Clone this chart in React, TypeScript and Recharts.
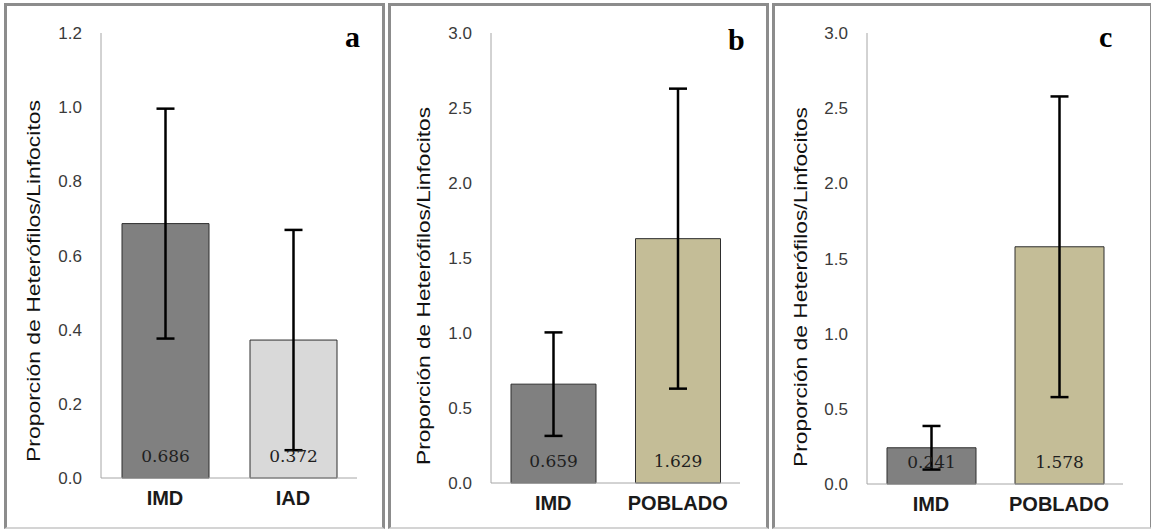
import React from "react";
import { Bar, BarChart, XAxis, YAxis, ErrorBar, Cell, LabelList, Label } from "recharts";

// Panel a
const catsA = ["IMD", "IAD"];
const valsA = [0.686, 0.372];
const errA = [0.31, 0.297];
const ticksA = [0, 0.2, 0.4, 0.6, 0.8, 1.0, 1.2];

// Panel b
const catsB = ["IMD", "POBLADO"];
const valsB = [0.659, 1.629];
const errB = [0.345, 1.0];

// Panel c
const catsC = ["IMD", "POBLADO"];
const valsC = [0.241, 1.578];
const errC = [0.145, 1.0];

const ticksBC = [0, 0.5, 1.0, 1.5, 2.0, 2.5, 3.0];

const yTitle = "Proporción de Heterófilos/Linfocitos";

const barColors: Record<string, string> = {
  IMD: "#808080",
  IAD: "#d9d9d9",
  POBLADO: "#c4bd97",
};

const toRows = (cats: string[], vals: number[], errs: number[]) =>
  cats.map((name, i) => ({ name, value: vals[i], err: errs[i] }));

interface PanelProps {
  letter: string;
  rows: { name: string; value: number; err: number }[];
  ticks: number[];
  max: number;
  left: number;
  margin: { top: number; right: number; bottom: number; left: number };
  barSize: number;
  labelX: number;
  labelCY: number;
  labelLen: number;
  letterX: number;
  letterTop: number;
}

const W = 380;
const H = 529;
const Y_AXIS_W = 40;

const Panel: React.FC<PanelProps> = (p) => {
  const renderValue = (props: any) => {
    const { x, y, width, height, value } = props;
    return (
      <text
        x={x + width / 2}
        y={y + height - 16}
        textAnchor="middle"
        fontFamily="'DejaVu Serif', serif"
        fontSize={17}
        fill="#1f1f1f"
      >
        {Number(value).toFixed(3)}
      </text>
    );
  };

  const renderYTitle = () => (
    <text
      x={p.labelX}
      y={p.labelCY}
      transform={`rotate(-90 ${p.labelX} ${p.labelCY})`}
      textAnchor="middle"
      fontFamily="'Liberation Sans', Arial, sans-serif"
      fontSize={19}
      fill="#111111"
      textLength={p.labelLen}
      lengthAdjust="spacingAndGlyphs"
    >
      {yTitle}
    </text>
  );

  return (
    <>
      <div
        style={{
          position: "absolute",
          left: p.left - 1,
          top: 3,
          width: W + 1,
          height: H - 3,
          boxSizing: "border-box",
          borderTop: "3px solid #8c8c8c",
          borderLeft: "3px solid #8c8c8c",
          borderRight: "3px solid #8c8c8c",
          borderBottom: "2px solid #d4d4d4",
        }}
      />
      <div style={{ position: "absolute", left: p.left, top: 0 }}>
        <BarChart width={W} height={H} data={p.rows} margin={p.margin} barSize={p.barSize}>
          <XAxis
            dataKey="name"
            height={30}
            tickLine={false}
            tickSize={0}
            tickMargin={13}
            axisLine={{ stroke: "#a6a6a6" }}
            tick={{ fontFamily: "'Liberation Sans', Arial, sans-serif", fontSize: 20, fontWeight: 700, fill: "#1a1a1a" }}
          />
          <YAxis
            width={Y_AXIS_W}
            domain={[0, p.max]}
            ticks={p.ticks}
            interval={0}
            tickFormatter={(v: number) => v.toFixed(1)}
            tickLine={false}
            tickSize={6}
            tickMargin={13}
            axisLine={{ stroke: "#a6a6a6" }}
            tick={{ fontFamily: "'Liberation Sans', Arial, sans-serif", fontSize: 17, fill: "#3a3a3a" }}
          >
            <Label content={renderYTitle} />
          </YAxis>
          <Bar dataKey="value" stroke="#2e2e2e" strokeWidth={1} isAnimationActive={false}>
            {p.rows.map((r) => (
              <Cell key={r.name} fill={barColors[r.name]} />
            ))}
            <LabelList dataKey="value" content={renderValue} />
            <ErrorBar dataKey="err" direction="y" width={9} stroke="#000000" strokeWidth={2.5} isAnimationActive={false} />
          </Bar>
        </BarChart>
      </div>
      <div
        style={{
          position: "absolute",
          left: p.letterX,
          top: p.letterTop,
          fontFamily: "'Liberation Serif', 'Times New Roman', serif",
          fontWeight: 700,
          fontSize: 30,
          lineHeight: "30px",
          color: "#000",
        }}
      >
        {p.letter}
      </div>
    </>
  );
};

export default function App() {
  return (
    <div
      style={{
        position: "absolute",
        left: 0,
        top: 0,
        width: 1151,
        height: 529,
        overflow: "hidden",
        background: "#ffffff",
      }}
    >
      <Panel
        letter="a"
        rows={toRows(catsA, valsA, errA)}
        ticks={ticksA}
        max={1.2}
        left={5}
        margin={{ top: 33, right: 28, bottom: 21, left: 96 - Y_AXIS_W }}
        barSize={87}
        labelX={35}
        labelCY={281}
        labelLen={362}
        letterX={345}
        letterTop={22}
      />
      <Panel
        letter="b"
        rows={toRows(catsB, valsB, errB)}
        ticks={ticksBC}
        max={3}
        left={389}
        margin={{ top: 33, right: 29, bottom: 16, left: 102 - Y_AXIS_W }}
        barSize={85}
        labelX={41}
        labelCY={286}
        labelLen={358}
        letterX={728}
        letterTop={25}
      />
      <Panel
        letter="c"
        rows={toRows(catsC, valsC, errC)}
        ticks={ticksBC}
        max={3}
        left={773}
        margin={{ top: 33, right: 30, bottom: 15, left: 94 - Y_AXIS_W }}
        barSize={89}
        labelX={34}
        labelCY={287}
        labelLen={360}
        letterX={1099}
        letterTop={22}
      />
    </div>
  );
}
